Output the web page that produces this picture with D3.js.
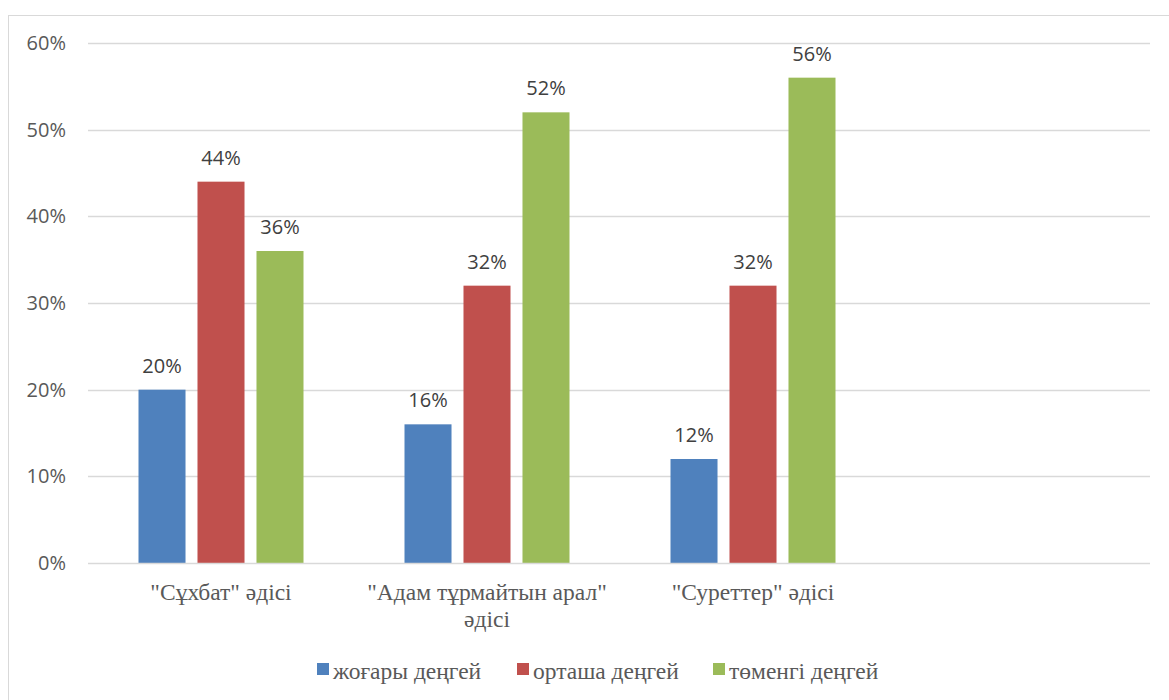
<!DOCTYPE html>
<html>
<head>
<meta charset="utf-8">
<script src="https://cdn.jsdelivr.net/npm/d3@7"></script>
<style>
  body { margin: 0; background: #fff; }
  svg { display: block; }
</style>
</head>
<body>
<div id="chart"></div>
<script>
// categories (4th slot is empty in the original)
const categories = ['"Сұхбат" әдісі', '"Адам тұрмайтын арал" әдісі', '"Суреттер" әдісі', ''];
const seriesNames = ["жоғары деңгей", "орташа деңгей", "төменгі деңгей"];
const seriesColors = ["#4f81bd", "#c0504d", "#9bbb59"];
const high = [20, 16, 12];
const mid = [44, 32, 32];
const low = [36, 52, 56];
const yTicks = [0, 10, 20, 30, 40, 50, 60];

const width = 1169, height = 700;
const plot = {left: 88, right: 1152, top: 43, bottom: 563};

const svg = d3.select("#chart").append("svg")
	.attr("width", width)
	.attr("height", height);

// chart border
svg.append("rect")
	.attr("x", 8.5).attr("y", 15.5)
	.attr("width", 1200).attr("height", 720)
	.attr("fill", "none")
	.attr("stroke", "#d9d9d9");

const x0 = d3.scaleBand()
	.domain(d3.range(categories.length))
	.range([plot.left, plot.right]);

const x1 = d3.scaleBand()
	.domain(d3.range(seriesNames.length))
	.range([0, x0.bandwidth()])
	.paddingInner(0.203)
	.paddingOuter(0.856);

const y = d3.scaleLinear()
	.domain([0, 60])
	.range([plot.bottom, plot.top]);

// gridlines
svg.append("g")
	.selectAll("line")
	.data(yTicks.slice(1))
	.enter().append("line")
		.attr("x1", plot.left).attr("x2", plot.right - 2)
		.attr("y1", d => Math.round(y(d)) + 0.5)
		.attr("y2", d => Math.round(y(d)) + 0.5)
		.attr("stroke", "#d9d9d9")
		.attr("stroke-width", 1.3);

// y tick labels
svg.append("g")
	.selectAll("text")
	.data(yTicks)
	.enter().append("text")
		.attr("x", 66)
		.attr("y", d => y(d) + 7)
		.attr("text-anchor", "end")
		.attr("font-family", "'Open Sans', sans-serif")
		.attr("font-size", 20)
		.attr("fill", "#595959")
		.text(d => d + "%");

// bars
const data = [high, mid, low];
const groups = svg.append("g")
	.selectAll("g")
	.data(data)
	.enter().append("g")
		.attr("fill", (d, i) => seriesColors[i]);

groups.each(function(vals, si) {
	const g = d3.select(this);
	g.selectAll("rect")
		.data(vals)
		.enter().append("rect")
			.attr("x", (d, ci) => x0(ci) + x1(si))
			.attr("y", d => y(d))
			.attr("width", x1.bandwidth())
			.attr("height", d => y(0) - y(d));
	g.selectAll("text")
		.data(vals)
		.enter().append("text")
			.attr("x", (d, ci) => x0(ci) + x1(si) + x1.bandwidth() / 2)
			.attr("y", d => y(d) - 17)
			.attr("text-anchor", "middle")
			.attr("font-family", "'Open Sans', sans-serif")
			.attr("font-size", 20)
			.attr("fill", "#404040")
			.text(d => d + "%");
});

// x axis line
svg.append("line")
	.attr("x1", plot.left).attr("x2", plot.right - 2)
	.attr("y1", plot.bottom + 0.5).attr("y2", plot.bottom + 0.5)
	.attr("stroke", "#d9d9d9")
	.attr("stroke-width", 1.3);

// category labels (wrap the long one)
const catLines = [['"Сұхбат" әдісі'], ['"Адам тұрмайтын арал"', 'әдісі'], ['"Суреттер" әдісі'], []];
const catG = svg.append("g");
catLines.forEach(function(lines, ci) {
	lines.forEach(function(line, li) {
		catG.append("text")
			.attr("x", x0(ci) + x0.bandwidth() / 2)
			.attr("y", 600 + li * 27)
			.attr("text-anchor", "middle")
			.attr("font-family", "'Liberation Serif', serif")
			.attr("font-size", 23.5)
			.attr("fill", "#595959")
			.text(line);
	});
});

// legend
const legendX = [317, 517, 713];
const legend = svg.append("g")
	.selectAll("g")
	.data(seriesNames)
	.enter().append("g")
		.attr("transform", (d, i) => "translate(" + legendX[i] + ",663)");
legend.append("rect")
	.attr("width", 12).attr("height", 12)
	.attr("fill", (d, i) => seriesColors[i]);
legend.append("text")
	.attr("x", 16)
	.attr("y", 16)
	.attr("font-family", "'Liberation Serif', serif")
	.attr("font-size", 23.5)
	.attr("fill", "#595959")
	.text(d => d);
</script>
</body>
</html>
